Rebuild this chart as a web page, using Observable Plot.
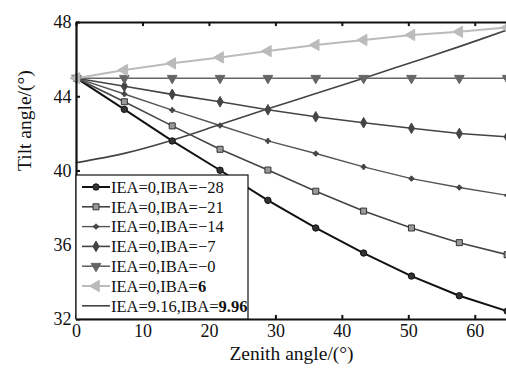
<!DOCTYPE html>
<html><head><meta charset="utf-8">
<script src="https://cdn.jsdelivr.net/npm/d3@7"></script>
<script src="https://cdn.jsdelivr.net/npm/@observablehq/plot@0.6"></script>
<style>html,body{margin:0;padding:0;background:#fff} svg{display:block}</style>
</head><body><div id="chart"></div>
<script>
// ---- data ----
const zenith = [0, 7.2, 14.4, 21.6, 28.8, 36, 43.2, 50.4, 57.6, 64.8];
const seriesNames = ["IEA=0,IBA=−28", "IEA=0,IBA=−21", "IEA=0,IBA=−14", "IEA=0,IBA=−7", "IEA=0,IBA=−0", "IEA=0,IBA=6", "IEA=9.16,IBA=9.96"];
const tiltIBAm28 = [45, 43.32, 41.62, 40.04, 38.42, 36.93, 35.58, 34.34, 33.28, 32.45];
const tiltIBAm21 = [45, 43.73, 42.43, 41.17, 40.05, 38.91, 37.84, 36.93, 36.14, 35.49];
const tiltIBAm14 = [45, 44.15, 43.28, 42.45, 41.62, 40.94, 40.22, 39.59, 39.11, 38.69];
const tiltIBAm7  = [45, 44.57, 44.13, 43.73, 43.30, 42.92, 42.60, 42.30, 42.02, 41.84];
const tiltIBA0   = [45, 45, 45, 45, 45, 45, 45, 45, 45, 45];
const tiltIBA6   = [45, 45.44, 45.80, 46.12, 46.46, 46.79, 47.06, 47.33, 47.50, 47.73];
const tiltIEA916 = [40.45, 40.95, 41.66, 42.50, 43.35, 44.17, 45.00, 45.85, 46.70, 47.60];
const xTicks = [0, 10, 20, 30, 40, 50, 60];
const yTicks = [32, 36, 40, 44, 48];

const seriesValues = [tiltIBAm28, tiltIBAm21, tiltIBAm14, tiltIBAm7, tiltIBA0, tiltIBA6, tiltIEA916];

// ---- styles ----
const styles = [
  {stroke: "#111", width: 2.0, symbol: "circle",   r: 3.2, fill: "#333", mstroke: "#111", rotate: 0},
  {stroke: "#444", width: 1.6, symbol: "square",   r: 3.4, fill: "#999", mstroke: "#333", rotate: 0},
  {stroke: "#555", width: 1.4, symbol: "cross",    r: 2.0, fill: "#444", mstroke: "#444", rotate: 0},
  {stroke: "#444", width: 1.6, symbol: "diamond",  r: 3.2, fill: "#444", mstroke: "#444", rotate: 0},
  {stroke: "#666", width: 1.6, symbol: "triangle", r: 3.6, fill: "#666", mstroke: "#666", rotate: 180},
  {stroke: "#bbb", width: 2.0, symbol: "triangle", r: 4.2, fill: "#bbb", mstroke: "#bbb", rotate: -90},
  {stroke: "#444", width: 1.6, symbol: null}
];

const rows = [];
seriesNames.forEach((name, i) => {
  zenith.forEach((z, j) => rows.push({name, i, x: z, y: seriesValues[i][j]}));
});

const FONT = "Liberation Serif, Times New Roman, serif";
const marks = [];
styles.forEach((s, i) => {
  const data = rows.filter(d => d.i === i);
  marks.push(Plot.line(data, {x: "x", y: "y", stroke: s.stroke, strokeWidth: s.width, curve: i === 6 ? "catmull-rom" : "linear"}));
});
styles.forEach((s, i) => {
  if (!s.symbol) return;
  const data = rows.filter(d => d.i === i);
  marks.push(Plot.dot(data, {x: "x", y: "y", symbol: s.symbol, r: s.r, fill: s.fill, stroke: s.mstroke, strokeWidth: 1, rotate: s.rotate}));
});

const chart = Plot.plot({
  width: 506, height: 376,
  marginLeft: 76, marginRight: 0, marginTop: 22, marginBottom: 57,
  style: {fontFamily: FONT, fontSize: "17px", color: "#111", background: "#fff"},
  x: {domain: [0, 64.7], axis: null},
  y: {domain: [32, 48], axis: null},
  marks: [
    ...marks,
    Plot.ruleY([32], {stroke: "#111", strokeWidth: 2.2}),
    Plot.ruleY([48], {stroke: "#111", strokeWidth: 2.2}),
    Plot.ruleX([0], {stroke: "#111", strokeWidth: 2.2}),
    Plot.ruleX(xTicks, {x: d => d, y1: 32, y2: 32.22, stroke: "#111", strokeWidth: 2}),
    Plot.ruleX(xTicks, {x: d => d, y1: 47.78, y2: 48, stroke: "#111", strokeWidth: 2}),
    Plot.ruleY(yTicks, {y: d => d, x1: 0, x2: 0.6, stroke: "#111", strokeWidth: 2}),
    Plot.text(xTicks, {x: d => d, frameAnchor: "bottom", dy: 17, fontSize: 18, fill: "#111"}),
    Plot.text(yTicks, {y: d => d, frameAnchor: "left", dx: -5, textAnchor: "end", fontSize: 18, fill: "#111"}),
    Plot.text(["Zenith angle/(°)"], {frameAnchor: "bottom", dy: 40, fontSize: 19.5, fill: "#111"}),
    Plot.text(["Tilt angle/(°)"], {frameAnchor: "left", dx: -52, rotate: -90, fontSize: 19.5, fill: "#111"})
  ]
});
document.getElementById("chart").appendChild(chart);

// ---- legend ----
const svg = d3.select(chart);
const lg = svg.append("g").attr("font-family", FONT).attr("font-size", 16.5).attr("text-anchor", "start");
lg.append("rect").attr("x", 76).attr("y", 175).attr("width", 172).attr("height", 144)
  .attr("fill", "#fff").attr("stroke", "#111").attr("stroke-width", 1.2);
const symMap = {circle: d3.symbolCircle, square: d3.symbolSquare, cross: d3.symbolCross, diamond: d3.symbolDiamond, triangle: d3.symbolTriangle};
seriesNames.forEach((name, i) => {
  const s = styles[i];
  const y = 187 + i * 19.8;
  const g = lg.append("g");
  g.append("line").attr("x1", 82).attr("x2", 110).attr("y1", y).attr("y2", y)
    .attr("stroke", s.stroke).attr("stroke-width", s.width);
  if (s.symbol) {
    g.append("path").attr("d", d3.symbol(symMap[s.symbol], Math.PI * s.r * s.r)())
      .attr("transform", `translate(96,${y}) rotate(${s.rotate})`)
      .attr("fill", s.fill).attr("stroke", s.mstroke).attr("stroke-width", 1);
  }
  const t = g.append("text").attr("x", 111).attr("y", y).attr("dy", "0.35em").attr("fill", "#111").attr("text-anchor", "start");
  const m = name.match(/^(.*IBA=)(.*)$/);
  t.append("tspan").text(m[1]);
  t.append("tspan").text(m[2]).attr("font-weight", (i >= 5) ? "bold" : null);
});
</script>
</body></html>
